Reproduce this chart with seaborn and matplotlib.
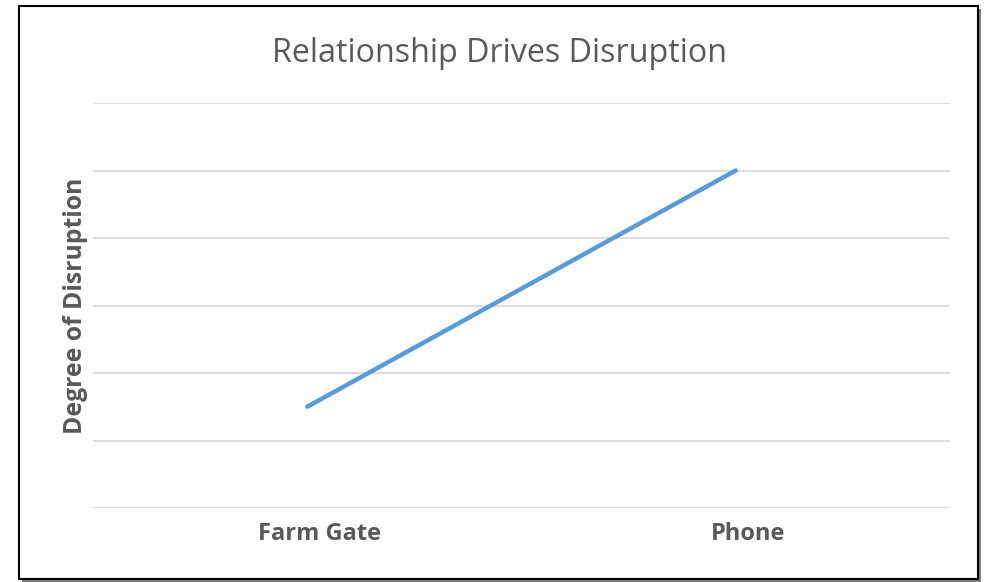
import matplotlib
matplotlib.use("Agg")
import matplotlib.pyplot as plt
import matplotlib.transforms as mtransforms
import seaborn as sns
import pandas as pd
from matplotlib.patches import Rectangle

categories = ["Farm Gate", "Phone"]
values = [1.5, 5.0]
title = "Relationship Drives Disruption"
ylabel = "Degree of Disruption"

sns.set_theme(style="white")
plt.rcParams['font.family'] = ['Open Sans', 'DejaVu Sans']

df = pd.DataFrame({"cat": categories, "val": values})

fig = plt.figure(figsize=(9.85, 5.82), dpi=100)
W, H = 985, 582
ax = fig.add_axes([93 / W, (H - 508) / H, 857 / W, 405 / H])

sns.lineplot(data=df, x="cat", y="val", ax=ax, color="#5B9BD5", linewidth=3.2, sort=False)

ax.set_xlim(-0.5, 1.5)
ax.set_ylim(0, 6)
ax.set_yticks(range(0, 7))
ax.set_yticklabels([])
ax.grid(axis="y", color="#D9D9D9", linewidth=1.3)
ax.grid(axis="x", visible=False)
for s in ax.spines.values():
    s.set_visible(False)
ax.tick_params(axis="both", length=0)
ax.tick_params(axis="x", pad=10)
offset = mtransforms.ScaledTranslation(12 / 100, 0, fig.dpi_scale_trans)
for lbl in ax.get_xticklabels():
    lbl.set_fontweight("bold")
    lbl.set_fontsize(17)
    lbl.set_color("#595959")
    lbl.set_transform(lbl.get_transform() + offset)
ax.set_xlabel("")
ax.set_ylabel(ylabel, fontsize=17.8, fontweight="bold", color="#595959", labelpad=0)

fig.text(500 / W, 1 - 53 / H, title, ha="center", va="center", fontsize=23.2,
         color="#595959")

# shadow and border
fig.patches.append(Rectangle((22 / W, 1 - 582 / H), 959 / W, 573 / H, transform=fig.transFigure,
                             facecolor="#7f7f7f", edgecolor="none", zorder=-2))
fig.patches.append(Rectangle((19 / W, 1 - 579 / H), 959 / W, 573 / H, transform=fig.transFigure,
                             facecolor="white", edgecolor="black", linewidth=1.5, zorder=-1))

fig.savefig("out.png", dpi=100)
